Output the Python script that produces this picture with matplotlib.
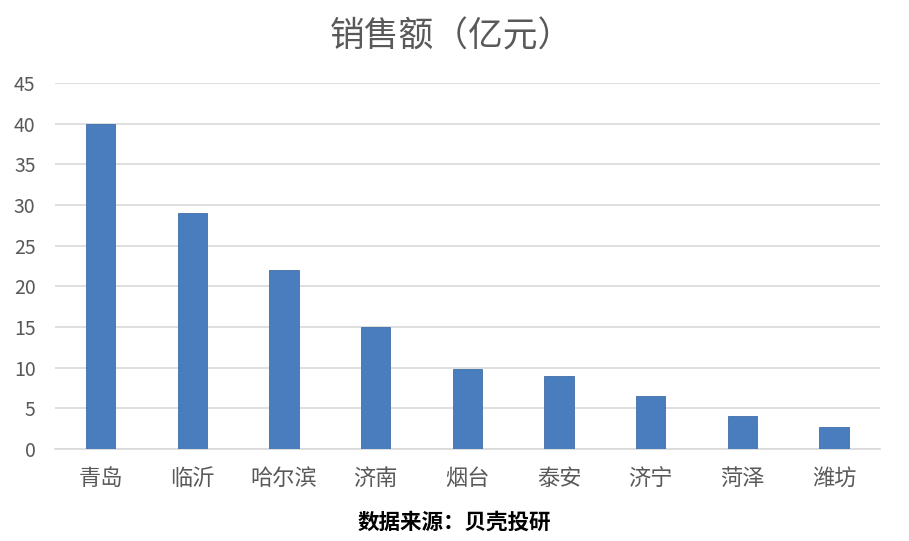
import numpy as np
import matplotlib
matplotlib.use('Agg')
import matplotlib.pyplot as plt

plt.rcParams['font.family'] = ['Noto Sans CJK SC', 'DejaVu Sans']

cities = ['青岛', '临沂', '哈尔滨', '济南', '烟台', '泰安', '济宁', '菏泽', '潍坊']
sales = [40, 29, 22, 15, 9.9, 9, 6.5, 4, 2.7]
y_ticks = [0, 5, 10, 15, 20, 25, 30, 35, 40, 45]

bar_color = '#4a7dbd'
text_color = '#595959'
grid_color = '#d9d9d9'

fig = plt.figure(figsize=(9.09, 5.41), dpi=100)
ax = fig.add_axes([0.0605, 0.170, 0.9075, 0.6766])

x = np.arange(len(cities))
ax.bar(x, sales, width=0.32, color=bar_color, edgecolor='#3f6fa8', linewidth=0.6, zorder=3)

ax.set_xlim(-0.5, len(cities) - 0.5)
ax.set_ylim(0, 45)
ax.set_yticks(y_ticks)
ax.set_xticks(x)
ax.set_xticklabels(cities)
ax.yaxis.grid(True, color=grid_color, linewidth=1.2, zorder=0)
ax.set_axisbelow(True)
for side in ['top', 'right', 'left']:
	ax.spines[side].set_visible(False)
ax.spines['bottom'].set_color(grid_color)
ax.spines['bottom'].set_linewidth(1.2)
ax.tick_params(axis='both', length=0, colors=text_color)
ax.tick_params(axis='y', labelsize=14, pad=14)
ax.tick_params(axis='x', labelsize=16, pad=13)

fig.text(0.497, 0.932, '销售额（亿元）', ha='center', va='center', fontsize=25, color=text_color)
fig.text(0.50, 0.035, '数据来源：贝壳投研', ha='center', va='center', fontsize=15.5, fontweight='bold', color='black')

fig.savefig('out.png', dpi=100)
